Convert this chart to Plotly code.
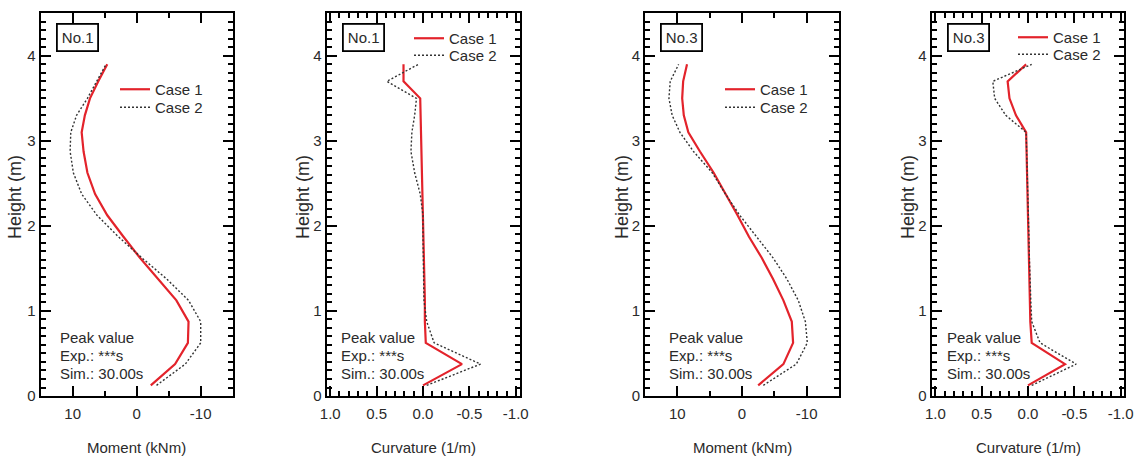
import plotly.graph_objects as go

# Heights of the evaluation points along the pile (m)
heights = [0.125, 0.375, 0.625, 0.875, 1.125, 1.375, 1.625, 1.875, 2.125,
           2.375, 2.625, 2.875, 3.1, 3.3, 3.5, 3.7, 3.9]

# No.1 bending moment (kNm)
moment_no1_case1 = [-2.2, -6.0, -8.0, -8.1, -6.2, -3.4, -0.5, 2.1, 4.6,
                    6.5, 7.7, 8.3, 8.6, 8.1, 7.3, 6.0, 4.6]
moment_no1_case2 = [-3.1, -7.6, -10.0, -10.0, -8.1, -4.7, -0.8, 2.9, 6.2,
                    8.6, 9.9, 10.4, 10.3, 9.4, 7.7, 6.25, 4.8]

# No.1 curvature (1/m)
curv_no1_case1 = [0.0, -0.42, -0.03, -0.02, -0.02, -0.015, -0.01, -0.005, 0.0,
                  0.005, 0.005, 0.01, 0.015, 0.02, 0.03, 0.21, 0.21]
curv_no1_case2 = [-0.04, -0.62, -0.12, -0.04, -0.01, -0.005, 0.0, 0.0, 0.0,
                  0.03, 0.09, 0.13, 0.12, 0.09, 0.07, 0.39, 0.05]

# No.3 bending moment (kNm)
moment_no3_case1 = [-2.5, -6.4, -7.9, -7.7, -6.4, -4.8, -3.05, -1.06, 0.69,
                    2.48, 4.38, 6.5, 8.3, 9.0, 9.25, 9.1, 8.5]
moment_no3_case2 = [-3.3, -8.4, -10.1, -9.8, -8.7, -6.95, -4.8, -2.2, 0.35,
                    2.56, 4.6, 7.5, 9.6, 10.8, 11.3, 11.1, 9.8]

# No.3 curvature (1/m)
curv_no3_case1 = [0.0, -0.4, -0.04, -0.025, -0.02, -0.015, -0.01, -0.005, 0.0,
                  0.0, 0.005, 0.01, 0.02, 0.13, 0.2, 0.22, 0.02]
curv_no3_case2 = [-0.04, -0.52, -0.13, -0.04, -0.03, -0.02, -0.015, -0.01, -0.005,
                  0.0, 0.005, 0.01, 0.02, 0.24, 0.36, 0.38, -0.04]

panel_labels = ["No.1", "No.1", "No.3", "No.3"]
series_names = ["Case 1", "Case 2"]
peak_lines = ["Peak value", "Exp.: ***s", "Sim.: 30.00s"]
x_titles = {"moment": "Moment (kNm)", "curv": "Curvature (1/m)"}
y_title = "Height (m)"

moment_ticks = [10, 0, -10]
moment_ticktext = ["10", "0", "-10"]
curv_ticks = [1.0, 0.5, 0.0, -0.5, -1.0]
curv_ticktext = ["1.0", "0.5", "0.0", "-0.5", "-1.0"]

FONT = "Liberation Sans, Arial, sans-serif"
TXT = "#2a2a2a"
RED = "#e3232b"
DOT = "#333333"

panels = [
    dict(c1=moment_no1_case1, c2=moment_no1_case2, kind="moment"),
    dict(c1=curv_no1_case1, c2=curv_no1_case2, kind="curv"),
    dict(c1=moment_no3_case1, c2=moment_no3_case2, kind="moment"),
    dict(c1=curv_no3_case1, c2=curv_no3_case2, kind="curv"),
]

W, H = 1142, 458
x_domains = [(40.7, 232.7), (326.5, 519.5), (645.0, 839.0), (931.7, 1124.3)]
y_dom = [1 - 396 / H, 1 - 13.3 / H]
y_range = [0, 4.5]
x_ranges = {"moment": [15, -15], "curv": [1.04, -1.04]}
x_minor_step = {"moment": 5, "curv": 0.1}

# legend text start (px) and row centres (px) for Case 1 / Case 2
legend_text_x = [157, 451, 762, 1055]
legend_rows = [(90, 108), (39, 56), (90, 108), (38, 55)]
peak_x = [0.09, 0.066, 0.112, 0.069]
peak_y = [0.154, 0.105, 0.060]
# centre of the rotated height title (px from left)
y_title_x = [15, 303, 622, 908]

fig = go.Figure()
layout = dict(
    width=W, height=H,
    # fixed margins: nothing may expand them
    margin=dict(l=0, r=0, t=0, b=0, autoexpand=False),
    paper_bgcolor="white", plot_bgcolor="white",
    font=dict(family=FONT, size=15, color=TXT),
    showlegend=True,
    annotations=[],
)

for i, p in enumerate(panels):
    n = i + 1
    sfx = "" if n == 1 else str(n)
    lg1 = "legend" if n == 1 else f"legend{2 * n - 1}"
    lg2 = f"legend{2 * n}"
    fig.add_trace(go.Scatter(
        x=p["c1"], y=heights, mode="lines", name=series_names[0],
        line=dict(color=RED, width=2.2), xaxis=f"x{sfx}", yaxis=f"y{sfx}",
        legend=lg1, showlegend=True))
    fig.add_trace(go.Scatter(
        x=p["c2"], y=heights, mode="lines", name=series_names[1],
        line=dict(color=DOT, width=1.4, dash="2px,2px"),
        xaxis=f"x{sfx}", yaxis=f"y{sfx}", legend=lg2, showlegend=True))

    x0, x1 = x_domains[i]
    xdom = [x0 / W, x1 / W]
    kind = p["kind"]
    xa = go.layout.XAxis(
        domain=xdom, anchor=f"y{sfx}", range=x_ranges[kind],
        showline=True, linecolor="black", linewidth=2, mirror="allticks",
        ticks="inside", ticklen=10, tickwidth=1.8, tickcolor="black",
        showgrid=False, zeroline=False,
        tickmode="array",
        tickvals=moment_ticks if kind == "moment" else curv_ticks,
        ticktext=moment_ticktext if kind == "moment" else curv_ticktext,
        minor=dict(ticks="inside", ticklen=5, tickwidth=1.5,
                   tickcolor="black", dtick=x_minor_step[kind]),
        tickfont=dict(size=15, color=TXT),
        ticklabelstandoff=3,
    )
    ya = go.layout.YAxis(
        domain=y_dom, anchor=f"x{sfx}", range=y_range,
        showline=True, linecolor="black", linewidth=2, mirror="allticks",
        ticks="inside", ticklen=10, tickwidth=1.8, tickcolor="black",
        showgrid=False, zeroline=False, dtick=1, tick0=0,
        minor=dict(ticks="inside", ticklen=5, tickwidth=1.5,
                   tickcolor="black", dtick=0.1),
        tickfont=dict(size=15, color=TXT),
    )
    layout[f"xaxis{sfx}"] = xa
    layout[f"yaxis{sfx}"] = ya

    # axis titles
    layout["annotations"].append(dict(
        text=x_titles[kind], xref=f"x{sfx} domain", yref="paper",
        x=0.5, y=1 - 447 / H, xanchor="center", yanchor="middle",
        showarrow=False, font=dict(size=15, color=TXT)))
    layout["annotations"].append(dict(
        text=y_title, xref="paper", yref=f"y{sfx} domain",
        x=y_title_x[i] / W, y=0.52, xanchor="center", yanchor="middle",
        textangle=-90, showarrow=False, font=dict(size=18, color=TXT)))

    tx = legend_text_x[i]
    for lg, ry in zip((lg1, lg2), legend_rows[i]):
        layout[lg] = dict(x=(tx - 42) / W, y=1 - (ry - 17) / H,
                          xanchor="left", yanchor="top", visible=True,
                          xref="paper", yref="paper", bgcolor="rgba(0,0,0,0)",
                          borderwidth=0, font=dict(size=15, color=TXT),
                          itemwidth=30)

    layout["annotations"].append(dict(
        text=panel_labels[i], xref=f"x{sfx} domain", yref=f"y{sfx} domain",
        x=0.19, y=0.937, xanchor="center", yanchor="middle", showarrow=False,
        font=dict(size=15, color=TXT), bordercolor="black", borderwidth=1.8,
        borderpad=4, bgcolor="white"))
    for line, yy in zip(peak_lines, peak_y):
        layout["annotations"].append(dict(
            text=line, xref=f"x{sfx} domain", yref=f"y{sfx} domain",
            x=peak_x[i], y=yy, xanchor="left", yanchor="middle",
            showarrow=False, font=dict(size=15, color=TXT)))

fig.update_layout(**layout)
fig.write_html("out.html")
